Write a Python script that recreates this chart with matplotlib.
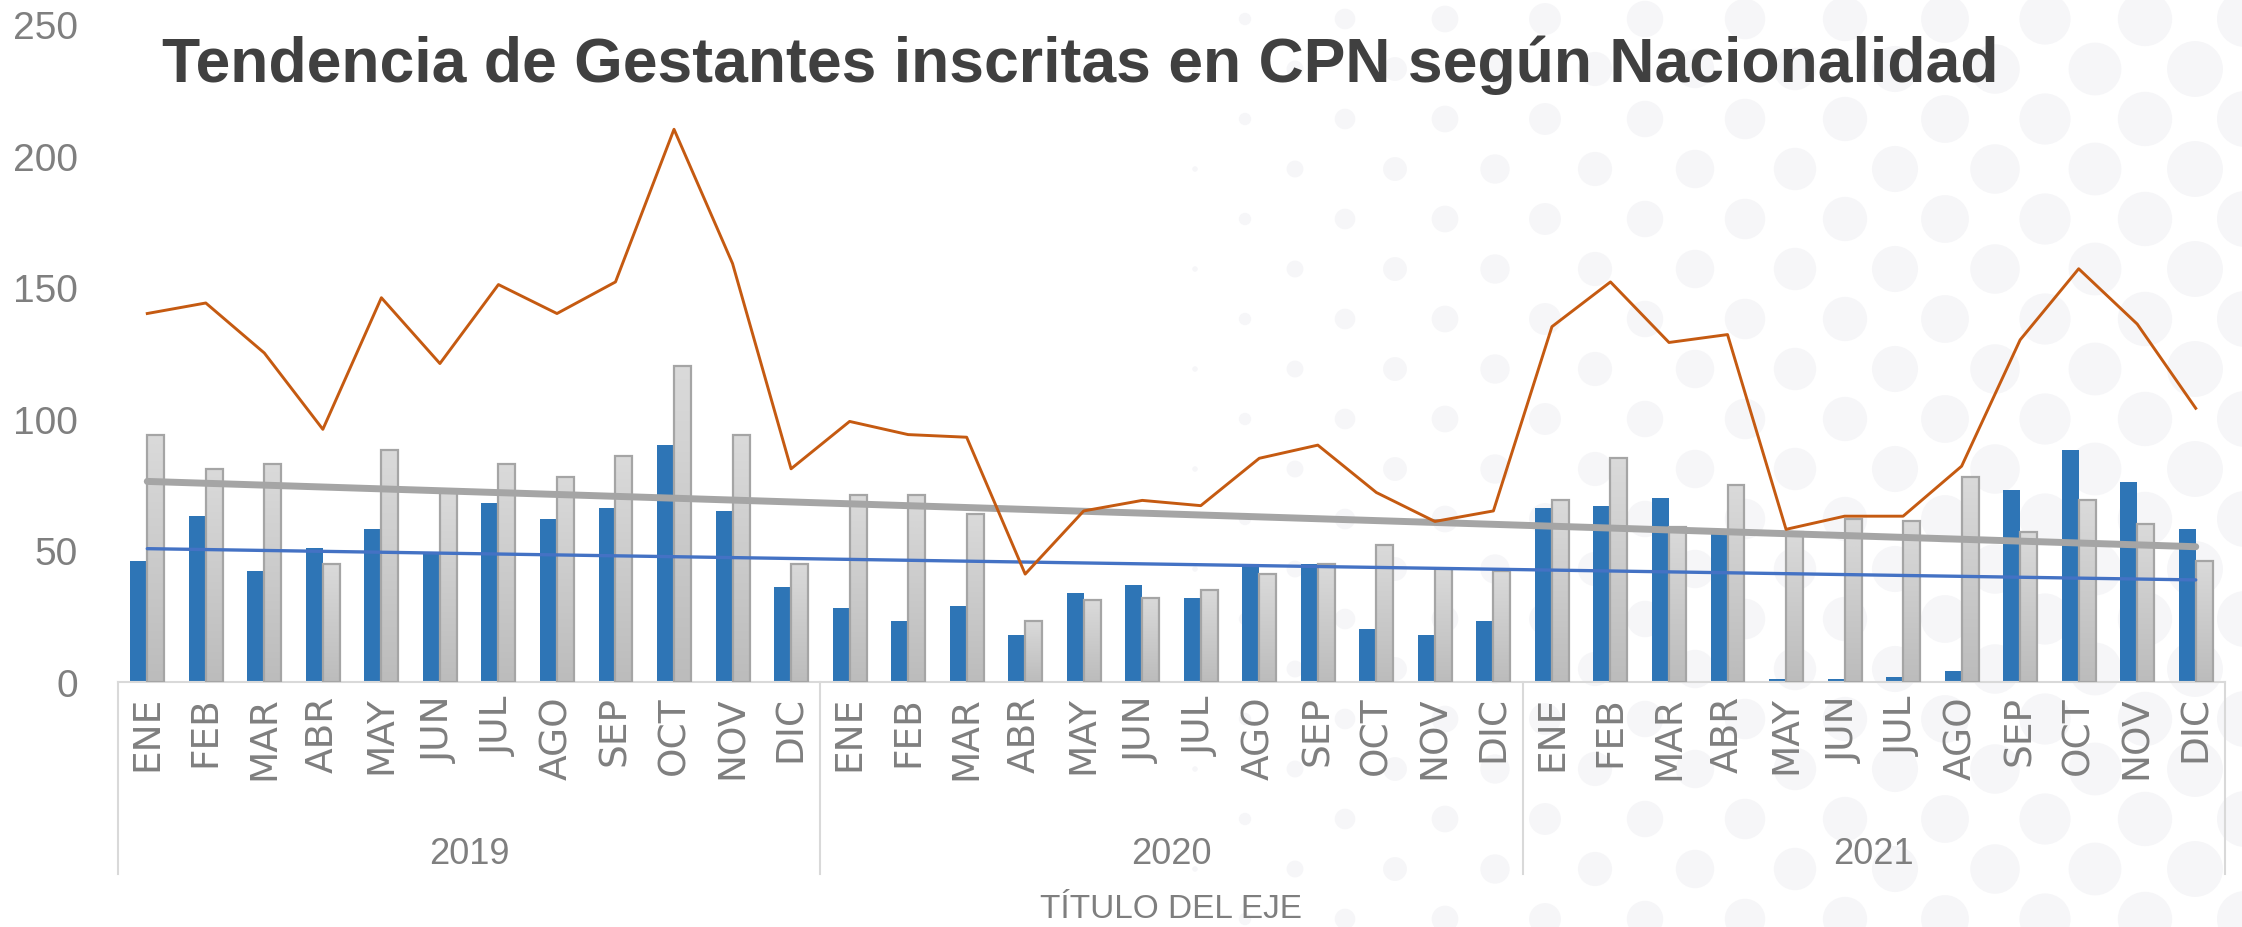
import numpy as np
import matplotlib
matplotlib.use("Agg")
import matplotlib.pyplot as plt
import matplotlib.transforms as mtransforms
from matplotlib.colors import LinearSegmentedColormap
from matplotlib.patches import Circle

# data
meses = ['ENE', 'FEB', 'MAR', 'ABR', 'MAY', 'JUN', 'JUL', 'AGO', 'SEP', 'OCT', 'NOV', 'DIC']
anios = ['2019', '2020', '2021']

serie_azul = [46, 63, 42, 51, 58, 49, 68, 62, 66, 90, 65, 36,
              28, 23, 29, 18, 34, 37, 32, 44, 45, 20, 18, 23,
              66, 67, 70, 57, 1, 1, 2, 4, 73, 88, 76, 58]
serie_gris = [94, 81, 83, 45, 88, 72, 83, 78, 86, 120, 94, 45,
              71, 71, 64, 23, 31, 32, 35, 41, 45, 52, 43, 42,
              69, 85, 59, 75, 57, 62, 61, 78, 57, 69, 60, 46]
total = [140, 144, 125, 96, 146, 121, 151, 140, 152, 210, 159, 81,
         99, 94, 93, 41, 65, 69, 67, 85, 90, 72, 61, 65,
         135, 152, 129, 132, 58, 63, 63, 82, 130, 157, 136, 104]

W, H = 2242, 928
fig = plt.figure(figsize=(W / 100, H / 100), dpi=100)
fig.patch.set_facecolor('white')

# faint dotted background on the right side
bg = fig.add_axes([0, 0, 1, 1], zorder=-1)
bg.set_xlim(0, W)
bg.set_ylim(H, 0)
bg.axis('off')
for j in range(20):
    yc = 20 + 50 * j
    x0 = 1545 - (50 if j % 2 else 0)
    for k in range(-6, 8):
        xc = x0 + 100 * k
        t = (xc - 1180) / 1020
        if t <= 0:
            continue
        r = 28 * min(t, 1.0) ** 0.55
        bg.add_patch(Circle((xc, yc), r, color='#f6f6f8', lw=0))

ax = fig.add_axes([118 / W, 1 - 683 / H, (2225 - 118) / W, (683 - 25) / H])
ax.set_facecolor('none')

n = len(serie_azul)
x = np.arange(n)
w = 0.29

ax.bar(x - w / 2, serie_azul, width=w, color='#2e75b6', zorder=2)

grad_cmap = LinearSegmentedColormap.from_list('g', ['#dadada', '#bcbcbc'])
grad = np.linspace(0, 1, 64).reshape(-1, 1)
for xi, v in zip(x, serie_gris):
    ax.imshow(grad, extent=(xi, xi + w, 0, v), aspect='auto', cmap=grad_cmap,
              zorder=2, interpolation='bilinear')
ax.bar(x + w / 2, serie_gris, width=w, facecolor='none', edgecolor='#a5a5a5',
       linewidth=1.6, zorder=3)

# linear trend lines
pa = np.polyfit(x, serie_azul, 1)
pg = np.polyfit(x, serie_gris, 1)
ax.plot(x, np.polyval(pg, x), color='#a5a5a5', lw=5, solid_capstyle='round', zorder=4)
ax.plot(x, np.polyval(pa, x), color='#4472c4', lw=2.4, solid_capstyle='round', zorder=4)

ax.plot(x, total, color='#c55a11', lw=2.1, zorder=5)

ax.set_xlim(-0.5, n - 0.5)
ax.set_ylim(0, 250)
ax.set_yticks(range(0, 251, 50))
ax.set_yticklabels([str(v) for v in range(0, 251, 50)], fontsize=28,
                   color='#7f7f7f', family='Liberation Sans')
ax.tick_params(axis='y', length=0, pad=29)
ax.set_xticks([])
for s in ['top', 'right', 'left']:
    ax.spines[s].set_visible(False)
ax.spines['bottom'].set_color('#d9d9d9')
ax.spines['bottom'].set_linewidth(1.5)

trans = mtransforms.blended_transform_factory(ax.transData, ax.transAxes)
for i in range(n):
    ax.text(i, -0.02, meses[i % 12], transform=trans, rotation=90, ha='center',
            va='top', fontsize=27, color='#7f7f7f', family='DejaVu Sans')
for k, a in enumerate(anios):
    ax.text(12 * k + 5.5, -0.26, a, transform=trans, ha='center', va='center',
            fontsize=26, color='#7f7f7f', family='Liberation Sans')
for xs in [-0.5, 11.5, 23.5, 35.5]:
    ax.plot([xs, xs], [0, -0.292], transform=trans, color='#d9d9d9', lw=1.5,
            clip_on=False)

fig.text(0.5225, 0.02, 'TÍTULO DEL EJE', ha='center', va='center', fontsize=24,
         color='#7f7f7f', family='Liberation Sans')

fig.text(0.4817, 1 - 82 / H, 'Tendencia de Gestantes inscritas en CPN según Nacionalidad',
         ha='center', va='baseline', fontsize=45, fontweight='bold', color='#404040',
         family='Liberation Sans')

fig.savefig('out.png', dpi=100)
